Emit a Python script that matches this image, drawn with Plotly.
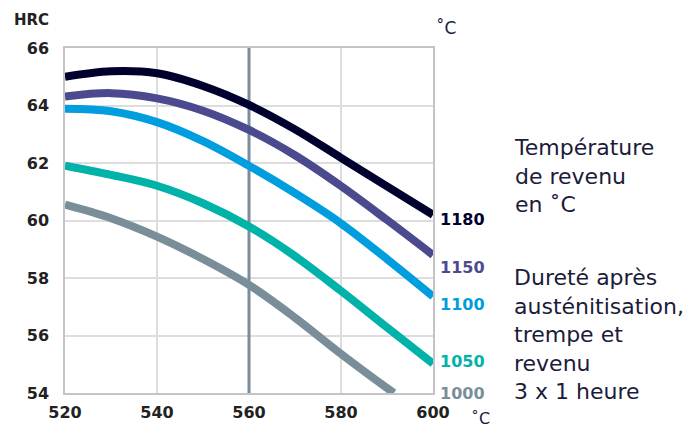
import plotly.graph_objects as go

temps = [520, 530, 540, 550, 560, 570, 580, 590, 600]
hrc_1180 = [65.0, 65.19, 65.12, 64.68, 64.02, 63.17, 62.18, 61.19, 60.2]
hrc_1150 = [64.31, 64.43, 64.25, 63.82, 63.15, 62.27, 61.2, 60.02, 58.8]
hrc_1100 = [63.89, 63.80, 63.42, 62.76, 61.90, 60.95, 59.9, 58.66, 57.36]
hrc_1050 = [61.91, 61.59, 61.21, 60.60, 59.79, 58.76, 57.55, 56.28, 55.02]
temps_1000 = [520, 530, 540, 550, 560, 570, 580, 590, 591.5]
hrc_1000 = [60.55, 60.08, 59.44, 58.66, 57.76, 56.62, 55.36, 54.17, 54.0]

series_names = ["1180", "1150", "1100", "1050", "1000"]
colors = ["#00002e", "#4b4a8e", "#009ddf", "#00b2a8", "#7a8e9a"]
label_y = [60.02, 58.38, 57.08, 55.09, 54.0]

ref_temp = 560
x_ticks = [520, 540, 560, 580, 600]
y_ticks = [54, 56, 58, 60, 62, 64, 66]

xs = [temps, temps, temps, temps, temps_1000]
ys = [hrc_1180, hrc_1150, hrc_1100, hrc_1050, hrc_1000]

FONT = "DejaVu Sans"
TXT = "#1b1b3a"
W, H = 694, 429
pl, pr, pt, pb = 65, 261, 48, 36
pw, ph = W - pl - pr, H - pt - pb


def px(xp):
    return (xp - pl) / pw


def py(yp):
    return 1 - (yp - pt) / ph


fig = go.Figure()
# vertical reference line at 560 (drawn first, beneath curves, above grid)
fig.add_trace(go.Scatter(x=[ref_temp, ref_temp], y=[54, 66], mode="lines",
                         line=dict(color="#7a8e9a", width=3), showlegend=False,
                         hoverinfo="skip", cliponaxis=False))
for name, x, y, c in zip(series_names, xs, ys, colors):
    fig.add_trace(go.Scatter(x=x, y=y, mode="lines", name=name,
                             line=dict(color=c, width=8, shape="spline", smoothing=1.0),
                             showlegend=False, hoverinfo="skip"))

fig.update_layout(
    width=W, height=H,
    margin=dict(l=pl, r=pr, t=pt, b=pb, autoexpand=False),
    paper_bgcolor="white", plot_bgcolor="white",
    xaxis=dict(range=[520, 600], tickvals=x_ticks, showgrid=True, gridcolor="#dddddd", gridwidth=1.5,
               showline=True, linecolor="#c4c4c4", linewidth=1.5, mirror=True, zeroline=False,
               ticks="", ticklabelstandoff=4, automargin=False,
               tickfont=dict(family=FONT, size=16, color="#222222", weight="bold")),
    yaxis=dict(range=[54, 66], tickvals=y_ticks, showgrid=True, gridcolor="#dddddd", gridwidth=1.5,
               showline=True, linecolor="#c4c4c4", linewidth=1.5, mirror=True, zeroline=False,
               ticks="", ticklabelstandoff=11, automargin=False,
               tickfont=dict(family=FONT, size=16, color="#222222", weight="bold")),
)

for name, ly, c in zip(series_names, label_y, colors):
    fig.add_annotation(x=600, y=ly, xref="x", yref="y", text="<b>" + name + "</b>",
                       showarrow=False, xanchor="left", yanchor="middle", xshift=5,
                       font=dict(family=FONT, size=16, color=c))

fig.add_annotation(x=px(31), y=py(20), xref="paper", yref="paper", text="<b>HRC</b>", showarrow=False,
                   xanchor="center", yanchor="middle", font=dict(family=FONT, size=15, color="#222222"))
fig.add_annotation(x=px(446), y=py(28), xref="paper", yref="paper", text="˚C", showarrow=False,
                   xanchor="center", yanchor="middle", font=dict(family=FONT, size=17, color=TXT))
fig.add_annotation(x=px(481), y=py(418), xref="paper", yref="paper", text="˚C", showarrow=False,
                   xanchor="center", yanchor="middle", font=dict(family=FONT, size=16, color=TXT))
fig.add_annotation(x=px(512), y=py(133), xref="paper", yref="paper",
                   text="Température<br>de revenu<br>en ˚C", showarrow=False, align="left",
                   xanchor="left", yanchor="top", font=dict(family=FONT, size=22, color=TXT))
fig.add_annotation(x=px(512), y=py(263), xref="paper", yref="paper",
                   text="Dureté après<br>austénitisation,<br>trempe et<br>revenu<br>3 x 1 heure",
                   showarrow=False, align="left",
                   xanchor="left", yanchor="top", font=dict(family=FONT, size=22, color=TXT))

fig.write_html("out.html", config={"displayModeBar": False},
               post_script="document.body.style.margin='0';document.body.style.overflow='hidden';")
